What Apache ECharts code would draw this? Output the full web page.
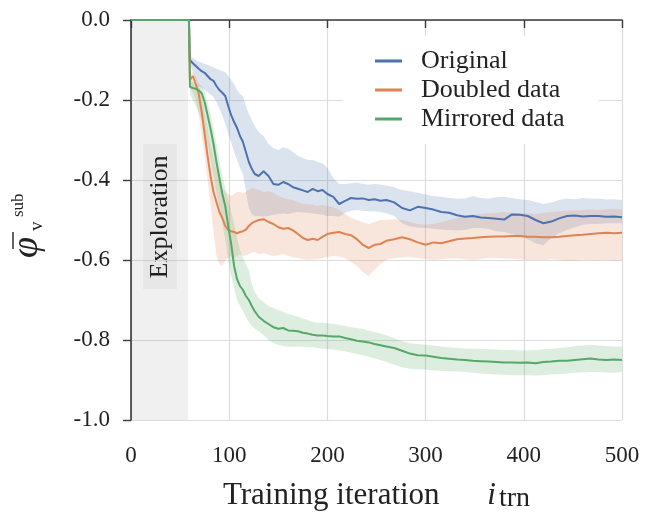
<!DOCTYPE html>
<html>
<head>
<meta charset="utf-8">
<script src="https://cdn.jsdelivr.net/npm/echarts@6/dist/echarts.min.js"></script>
<style>
html,body{margin:0;padding:0;background:#fff;}
#c{width:656px;height:514px;}
</style>
</head>
<body>
<div id="c"></div>
<script>
// ---------------- data ----------------
const seriesNames = ['Original', 'Doubled data', 'Mirrored data'];
const xTicks = [0, 100, 200, 300, 400, 500];
const yTicks = [0.0, -0.2, -0.4, -0.6, -0.8, -1.0];
const explorationEnd = 58;

const iters = [0, 59, 60, 63, 66, 69, 72, 75, 78, 81, 84, 87, 90, 93, 96, 99, 102, 105, 108, 111, 114, 117, 120, 123, 126,
  130, 135, 140, 145, 150, 155, 160, 165, 170, 175, 180, 185, 190, 195, 200,
  206, 212, 218, 224, 230, 236, 242, 248, 254, 260,
  268, 276, 284, 292, 300, 308, 316, 324, 332, 340, 348, 356, 364, 372, 380, 388, 396, 404, 412, 420, 428, 436, 444, 452, 460, 468, 476, 484, 492, 500];

const originalMean = [0, 0, -0.100, -0.108, -0.115, -0.122, -0.128, -0.132, -0.140, -0.148, -0.152, -0.165, -0.175, -0.182, -0.190, -0.215, -0.238, -0.255, -0.270, -0.290, -0.305, -0.330, -0.355, -0.372, -0.385,
  -0.390, -0.378, -0.390, -0.410, -0.412, -0.405, -0.410, -0.418, -0.422, -0.426, -0.430, -0.422, -0.428, -0.425, -0.435,
  -0.442, -0.460, -0.452, -0.445, -0.447, -0.446, -0.450, -0.448, -0.452, -0.450,
  -0.456, -0.470, -0.476, -0.467, -0.470, -0.474, -0.480, -0.482, -0.488, -0.492, -0.490, -0.494, -0.495, -0.497, -0.499, -0.486, -0.487, -0.490, -0.500, -0.508, -0.504, -0.496, -0.490, -0.489, -0.491, -0.490, -0.490, -0.492, -0.491, -0.493];
const originalUpper = [0, 0, -0.090, -0.095, -0.100, -0.104, -0.106, -0.110, -0.112, -0.115, -0.118, -0.122, -0.125, -0.128, -0.130, -0.140, -0.150, -0.160, -0.175, -0.185, -0.190, -0.215, -0.235, -0.250, -0.265,
  -0.280, -0.290, -0.310, -0.320, -0.325, -0.318, -0.322, -0.330, -0.340, -0.345, -0.350, -0.350, -0.355, -0.358, -0.370,
  -0.395, -0.410, -0.410, -0.408, -0.406, -0.410, -0.412, -0.410, -0.412, -0.414,
  -0.418, -0.425, -0.428, -0.432, -0.436, -0.440, -0.442, -0.445, -0.447, -0.446, -0.440, -0.445, -0.447, -0.443, -0.442, -0.445, -0.448, -0.450, -0.455, -0.460, -0.456, -0.450, -0.446, -0.448, -0.445, -0.447, -0.446, -0.449, -0.448, -0.450];
const originalLower = [0, 0, -0.110, -0.130, -0.150, -0.165, -0.170, -0.175, -0.180, -0.187, -0.192, -0.205, -0.222, -0.238, -0.260, -0.285, -0.305, -0.330, -0.350, -0.370, -0.385, -0.430, -0.470, -0.485, -0.490,
  -0.490, -0.492, -0.490, -0.487, -0.485, -0.484, -0.485, -0.482, -0.480, -0.481, -0.482, -0.484, -0.485, -0.487, -0.490,
  -0.490, -0.492, -0.482, -0.477, -0.475, -0.477, -0.478, -0.478, -0.480, -0.483,
  -0.490, -0.508, -0.516, -0.519, -0.520, -0.522, -0.524, -0.525, -0.526, -0.525, -0.520, -0.520, -0.522, -0.528, -0.530, -0.535, -0.540, -0.548, -0.558, -0.563, -0.545, -0.533, -0.525, -0.518, -0.512, -0.510, -0.510, -0.508, -0.508, -0.508];

const doubledMean = [0, 0, -0.150, -0.140, -0.160, -0.185, -0.230, -0.285, -0.340, -0.390, -0.430, -0.455, -0.480, -0.495, -0.515, -0.525, -0.528, -0.530, -0.533, -0.530, -0.528, -0.524, -0.515, -0.508, -0.504,
  -0.500, -0.498, -0.505, -0.510, -0.518, -0.522, -0.520, -0.526, -0.535, -0.545, -0.550, -0.547, -0.550, -0.542, -0.535,
  -0.532, -0.530, -0.535, -0.538, -0.548, -0.562, -0.570, -0.562, -0.560, -0.552,
  -0.548, -0.543, -0.548, -0.556, -0.562, -0.556, -0.558, -0.553, -0.548, -0.546, -0.545, -0.543, -0.542, -0.541, -0.541, -0.540, -0.540, -0.542, -0.542, -0.543, -0.543, -0.542, -0.540, -0.538, -0.537, -0.535, -0.533, -0.532, -0.533, -0.532];
const doubledUpper = [0, 0, -0.135, -0.130, -0.140, -0.160, -0.190, -0.230, -0.270, -0.310, -0.345, -0.375, -0.400, -0.420, -0.430, -0.435, -0.440, -0.435, -0.430, -0.430, -0.432, -0.430, -0.425, -0.420, -0.422,
  -0.425, -0.430, -0.428, -0.432, -0.440, -0.445, -0.448, -0.450, -0.455, -0.460, -0.460, -0.462, -0.465, -0.462, -0.465,
  -0.468, -0.475, -0.485, -0.495, -0.500, -0.505, -0.510, -0.505, -0.500, -0.500,
  -0.498, -0.500, -0.505, -0.510, -0.512, -0.510, -0.505, -0.500, -0.495, -0.490, -0.487, -0.485, -0.483, -0.482, -0.480, -0.482, -0.483, -0.483, -0.485, -0.482, -0.480, -0.478, -0.477, -0.476, -0.475, -0.474, -0.475, -0.473, -0.472, -0.473];
const doubledLower = [0, 0, -0.170, -0.180, -0.200, -0.240, -0.290, -0.340, -0.400, -0.460, -0.530, -0.590, -0.610, -0.615, -0.600, -0.595, -0.590, -0.595, -0.590, -0.585, -0.590, -0.588, -0.585, -0.582, -0.580,
  -0.585, -0.583, -0.587, -0.590, -0.588, -0.585, -0.590, -0.593, -0.595, -0.598, -0.600, -0.598, -0.598, -0.595, -0.592,
  -0.590, -0.592, -0.595, -0.605, -0.615, -0.630, -0.640, -0.625, -0.610, -0.600,
  -0.595, -0.593, -0.592, -0.595, -0.598, -0.600, -0.598, -0.596, -0.596, -0.598, -0.600, -0.598, -0.595, -0.595, -0.596, -0.597, -0.598, -0.600, -0.600, -0.600, -0.598, -0.600, -0.602, -0.602, -0.600, -0.600, -0.601, -0.600, -0.602, -0.600];

const mirroredMean = [0, 0, -0.167, -0.170, -0.172, -0.176, -0.183, -0.205, -0.238, -0.272, -0.310, -0.355, -0.395, -0.435, -0.465, -0.515, -0.560, -0.615, -0.648, -0.665, -0.675, -0.690, -0.700, -0.715, -0.728,
  -0.742, -0.752, -0.760, -0.768, -0.772, -0.770, -0.776, -0.777, -0.778, -0.782, -0.784, -0.787, -0.789, -0.789, -0.790,
  -0.791, -0.791, -0.795, -0.798, -0.802, -0.804, -0.806, -0.810, -0.813, -0.816,
  -0.820, -0.827, -0.834, -0.838, -0.839, -0.842, -0.845, -0.847, -0.849, -0.850, -0.852, -0.853, -0.854, -0.855, -0.856, -0.856, -0.857, -0.856, -0.858, -0.855, -0.854, -0.852, -0.852, -0.850, -0.848, -0.846, -0.849, -0.850, -0.849, -0.850];
const mirroredUpper = [0, 0, -0.150, -0.155, -0.158, -0.160, -0.165, -0.180, -0.205, -0.235, -0.270, -0.310, -0.350, -0.390, -0.420, -0.450, -0.480, -0.510, -0.545, -0.575, -0.595, -0.610, -0.625, -0.660, -0.680,
  -0.695, -0.705, -0.715, -0.720, -0.725, -0.730, -0.735, -0.738, -0.742, -0.746, -0.750, -0.755, -0.757, -0.757, -0.758,
  -0.760, -0.762, -0.765, -0.768, -0.770, -0.772, -0.776, -0.780, -0.784, -0.788,
  -0.795, -0.803, -0.808, -0.810, -0.812, -0.814, -0.816, -0.818, -0.820, -0.821, -0.822, -0.822, -0.823, -0.824, -0.825, -0.825, -0.826, -0.826, -0.825, -0.823, -0.822, -0.820, -0.818, -0.815, -0.814, -0.812, -0.814, -0.815, -0.816, -0.817];
const mirroredLower = [0, 0, -0.185, -0.200, -0.215, -0.230, -0.250, -0.275, -0.310, -0.350, -0.390, -0.430, -0.470, -0.510, -0.550, -0.600, -0.640, -0.670, -0.700, -0.715, -0.728, -0.742, -0.755, -0.765, -0.772,
  -0.778, -0.788, -0.800, -0.808, -0.812, -0.815, -0.817, -0.817, -0.816, -0.817, -0.818, -0.818, -0.820, -0.822, -0.823,
  -0.824, -0.826, -0.828, -0.832, -0.835, -0.838, -0.842, -0.846, -0.850, -0.855,
  -0.862, -0.868, -0.872, -0.873, -0.874, -0.876, -0.877, -0.878, -0.879, -0.880, -0.882, -0.884, -0.885, -0.886, -0.887, -0.888, -0.888, -0.888, -0.889, -0.888, -0.886, -0.885, -0.884, -0.882, -0.881, -0.880, -0.880, -0.881, -0.882, -0.880];

// ---------------- chart ----------------
const FONT = "'Liberation Serif', 'DejaVu Serif', serif";
const colors = ['#4C72B0', '#DD8452', '#55A868'];
const means = [originalMean, doubledMean, mirroredMean];
const uppers = [originalUpper, doubledUpper, mirroredUpper];
const lowers = [originalLower, doubledLower, mirroredLower];

function bandSeries(k) {
  return {
    type: 'custom',
    name: seriesNames[k] + ' band',
    silent: true,
    z: 1,
    clip: true,
    data: [[0, 0]],
    renderItem: function (params, api) {
      const pts = [];
      for (let i = 0; i < iters.length; i++) pts.push(api.coord([iters[i], uppers[k][i]]));
      for (let i = iters.length - 1; i >= 0; i--) pts.push(api.coord([iters[i], lowers[k][i]]));
      return { type: 'polygon', shape: { points: pts }, style: { fill: colors[k], opacity: 0.2 } };
    }
  };
}

function lineSeries(k) {
  const s = {
    type: 'line',
    name: seriesNames[k],
    symbol: 'none',
    showSymbol: false,
    z: 3 + k,
    color: colors[k],
    lineStyle: { width: 2, color: colors[k] },
    data: iters.map((x, i) => [x, means[k][i]])
  };
  if (k === 0) {
    s.markArea = {
      silent: true,
      itemStyle: { color: 'rgba(0,0,0,0.06)' },
      data: [[{ xAxis: 0 }, { xAxis: explorationEnd }]]
    };
  }
  return s;
}

const chart = echarts.init(document.getElementById('c'), null, { renderer: 'canvas' });
chart.setOption({
  animation: false,
  backgroundColor: '#fff',
  grid: { left: 131, right: 34, top: 20, bottom: 94, containLabel: false, outerBoundsMode: 'none' },
  xAxis: {
    type: 'value', min: xTicks[0], max: xTicks[xTicks.length - 1], interval: 100,
    axisLine: { show: true, lineStyle: { color: '#3a3a3a', width: 1.6 } },
    axisTick: { show: true, length: 8, lineStyle: { color: '#3a3a3a', width: 1.4 } },
    axisLabel: { margin: 24, fontFamily: FONT, fontSize: 23, color: '#222' },
    splitLine: { show: true, lineStyle: { color: '#dcdcdc', width: 1.2 } },
    name: 'Training iteration {i|i}{s|trn}',
    nameLocation: 'middle',
    nameGap: 58,
    nameTextStyle: {
      fontFamily: FONT, fontSize: 31, color: '#222',
      rich: {
        i: { fontFamily: FONT, fontSize: 31, fontStyle: 'italic', color: '#222', padding: [0, 0, 0, 40] },
        s: { fontFamily: FONT, fontSize: 28, color: '#222', padding: [7, 0, 0, 3] }
      }
    }
  },
  yAxis: {
    type: 'value', min: yTicks[yTicks.length - 1], max: yTicks[0], interval: 0.2,
    axisLine: { show: true, onZero: false, lineStyle: { color: '#3a3a3a', width: 1.6 } },
    axisTick: { show: true, length: 8, lineStyle: { color: '#3a3a3a', width: 1.4 } },
    axisLabel: { margin: 21, fontFamily: FONT, fontSize: 23, color: '#222', formatter: v => v.toFixed(1) },
    splitLine: { show: true, lineStyle: { color: '#dcdcdc', width: 1.2 } }
  },
  legend: {
    data: seriesNames,
    orient: 'vertical',
    left: 343, top: 36,
    padding: [12, 34, 12, 32],
    backgroundColor: '#ffffff',
    icon: 'rect',
    itemWidth: 27, itemHeight: 3, itemGap: 3,
    textStyle: { fontFamily: FONT, fontSize: 26, color: '#222', lineHeight: 26, padding: [0, 0, 0, 14] }
  },
  graphic: [
    {
      type: 'group', x: 160, y: 217, rotation: Math.PI / 2, z: 50,
      children: [
        { type: 'rect', shape: { x: -72, y: -17, width: 145, height: 34 }, style: { fill: '#f6f6f6' } },
        { type: 'text', x: 0, y: 0, style: { text: 'Exploration', fontFamily: FONT, fontSize: 26, fill: '#222', align: 'center', verticalAlign: 'middle' } }
      ]
    },
    {
      type: 'group', x: 0, y: 258, rotation: Math.PI / 2, z: 50,
      children: [
        { type: 'text', x: 0, y: 27, style: { text: 'φ', fontFamily: FONT, fontSize: 38, fontStyle: 'italic', fill: '#222', align: 'left', verticalAlign: 'middle' } },
        { type: 'line', shape: { x1: 9, y1: 13, x2: 26, y2: 13 }, style: { stroke: '#222', lineWidth: 1.4 } },
        { type: 'text', x: 41, y: 19, style: { text: 'sub', fontFamily: FONT, fontSize: 17, fill: '#222', align: 'left', verticalAlign: 'middle' } },
        { type: 'text', x: 27, y: 37, style: { text: 'v', fontFamily: FONT, fontSize: 19, fill: '#222', align: 'left', verticalAlign: 'middle' } }
      ]
    }
  ],
  series: [bandSeries(0), bandSeries(1), bandSeries(2), lineSeries(0), lineSeries(1), lineSeries(2)]
});
</script>
</body>
</html>
